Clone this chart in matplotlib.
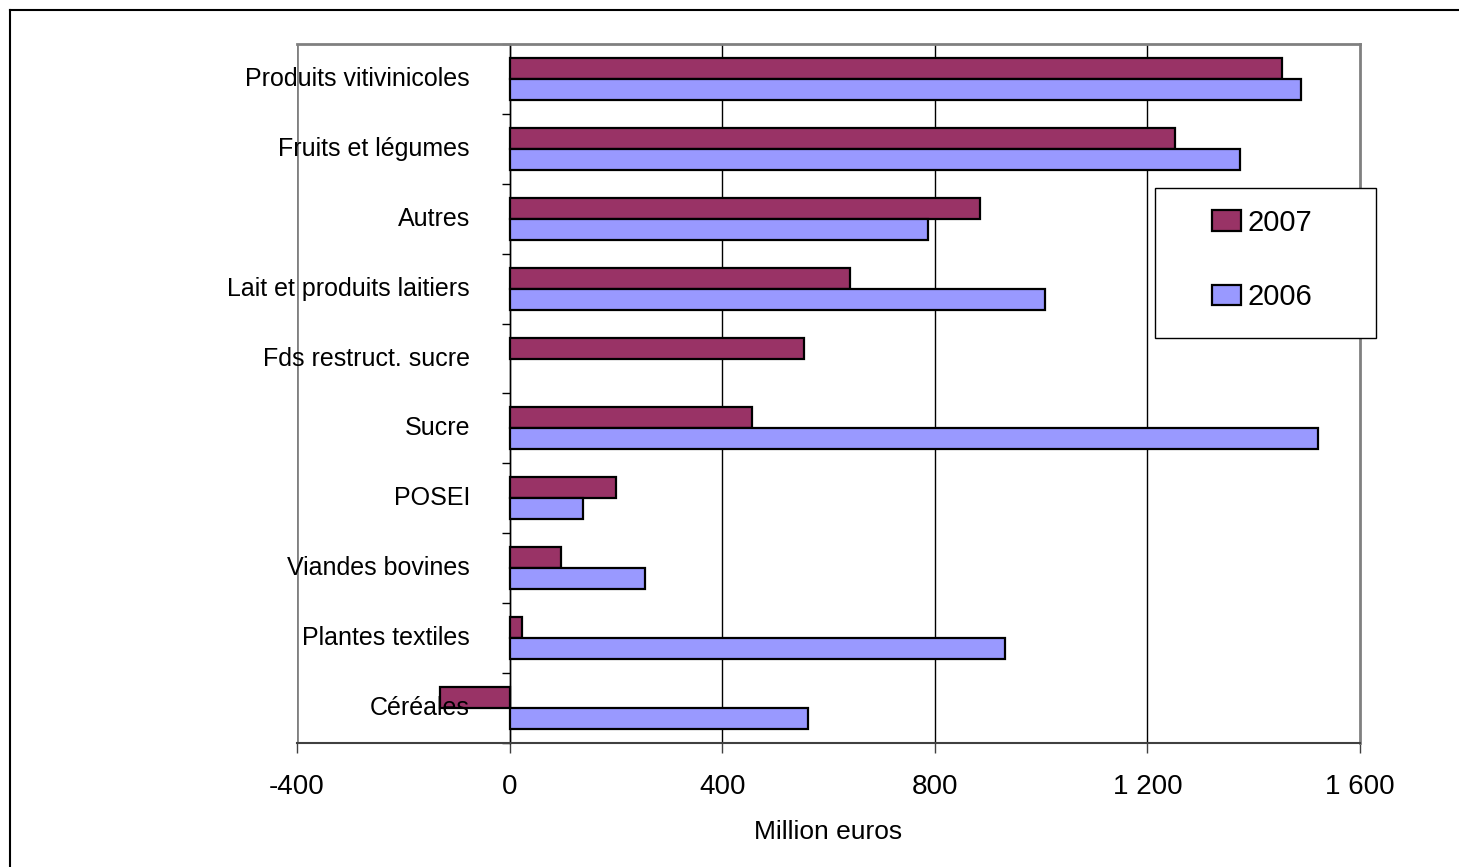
import matplotlib
matplotlib.use("Agg")
import matplotlib.pyplot as plt
from matplotlib.lines import Line2D
from matplotlib.patches import Rectangle, Patch
import numpy as np

plt.rcParams['font.family'] = ['Liberation Sans', 'DejaVu Sans']

categories = ["Produits vitivinicoles", "Fruits et légumes", "Autres",
              "Lait et produits laitiers", "Fds restruct. sucre", "Sucre",
              "POSEI", "Viandes bovines", "Plantes textiles", "Céréales"]
values_2007 = [1453, 1252, 885, 640, 554, 456, 200, 97, 23, -131]
values_2006 = [1489, 1374, 787, 1008, 0, 1521, 138, 255, 932, 561]
xticks = [-400, 0, 400, 800, 1200, 1600]
xtick_labels = ["-400", "0", "400", "800", "1 200", "1 600"]

col_2007 = "#993366"
col_2006 = "#9999FF"

fig = plt.figure(figsize=(14.59, 8.67), dpi=100)
ax = fig.add_axes([297 / 1459, 1 - 743 / 867, (1360 - 297) / 1459, (743 - 44) / 867])

n = len(categories)
y = np.arange(n)
h = 0.3
for i in range(n):
    ax.barh(y[i] - h / 2, values_2007[i], height=h, color=col_2007,
            edgecolor="black", linewidth=1.6, zorder=3)
    if values_2006[i] != 0:
        ax.barh(y[i] + h / 2, values_2006[i], height=h, color=col_2006,
                edgecolor="black", linewidth=1.6, zorder=3)

ax.set_xlim(-400, 1600)
ax.set_ylim(n - 0.5, -0.5)

# vertical grid
for xv in xticks[1:-1]:
    ax.axvline(xv, color="black", linewidth=1, zorder=1)

# spines
ax.spines['left'].set_position(('data', 0))
ax.spines['left'].set_color("black")
ax.spines['left'].set_linewidth(1)
for s in ['top', 'right']:
    ax.spines[s].set_color("#808080")
    ax.spines[s].set_linewidth(2)
ax.spines['bottom'].set_color("#404040")
ax.spines['bottom'].set_linewidth(1.5)
ax.axvline(-400, color="#808080", linewidth=2, zorder=2)

ax.set_yticks(np.arange(n + 1) - 0.5)
ax.set_yticklabels([])
ax.tick_params(axis='y', length=6, width=1, direction='out', color="black")

ax.set_xticks(xticks)
ax.set_xticklabels(xtick_labels, fontsize=20)
ax.tick_params(axis='x', length=7, width=1, pad=15, color="#404040")
ax.set_xlabel("Million euros", fontsize=19, labelpad=15)

for i, lab in enumerate(categories):
    ax.text(0.1627, y[i], lab, transform=ax.get_yaxis_transform(),
            ha='right', va='center', fontsize=18, zorder=5)

# legend
fig.patches.append(Rectangle((1155 / 1459, 1 - 338 / 867), 221 / 1459, 150 / 867,
                             transform=fig.transFigure, facecolor="white",
                             edgecolor="black", linewidth=1, zorder=4))
handles = [Patch(facecolor=col_2007, edgecolor="black", linewidth=1.6, label="2007"),
           Patch(facecolor=col_2006, edgecolor="black", linewidth=1.6, label="2006")]
leg = fig.legend(handles=handles, loc='center', bbox_to_anchor=(1262 / 1459, 1 - 260 / 867),
                 frameon=False, fontsize=21, labelspacing=1.6, handlelength=1.0,
                 handleheight=0.7, handletextpad=0.2)
leg.set_zorder(6)

# outer frame
fig.add_artist(Line2D([10 / 1459, 1], [1 - 10 / 867, 1 - 10 / 867], color="black", linewidth=1.5))
fig.add_artist(Line2D([10 / 1459, 10 / 1459], [0, 1 - 10 / 867], color="black", linewidth=1.5))

fig.savefig("out.png", dpi=100)
